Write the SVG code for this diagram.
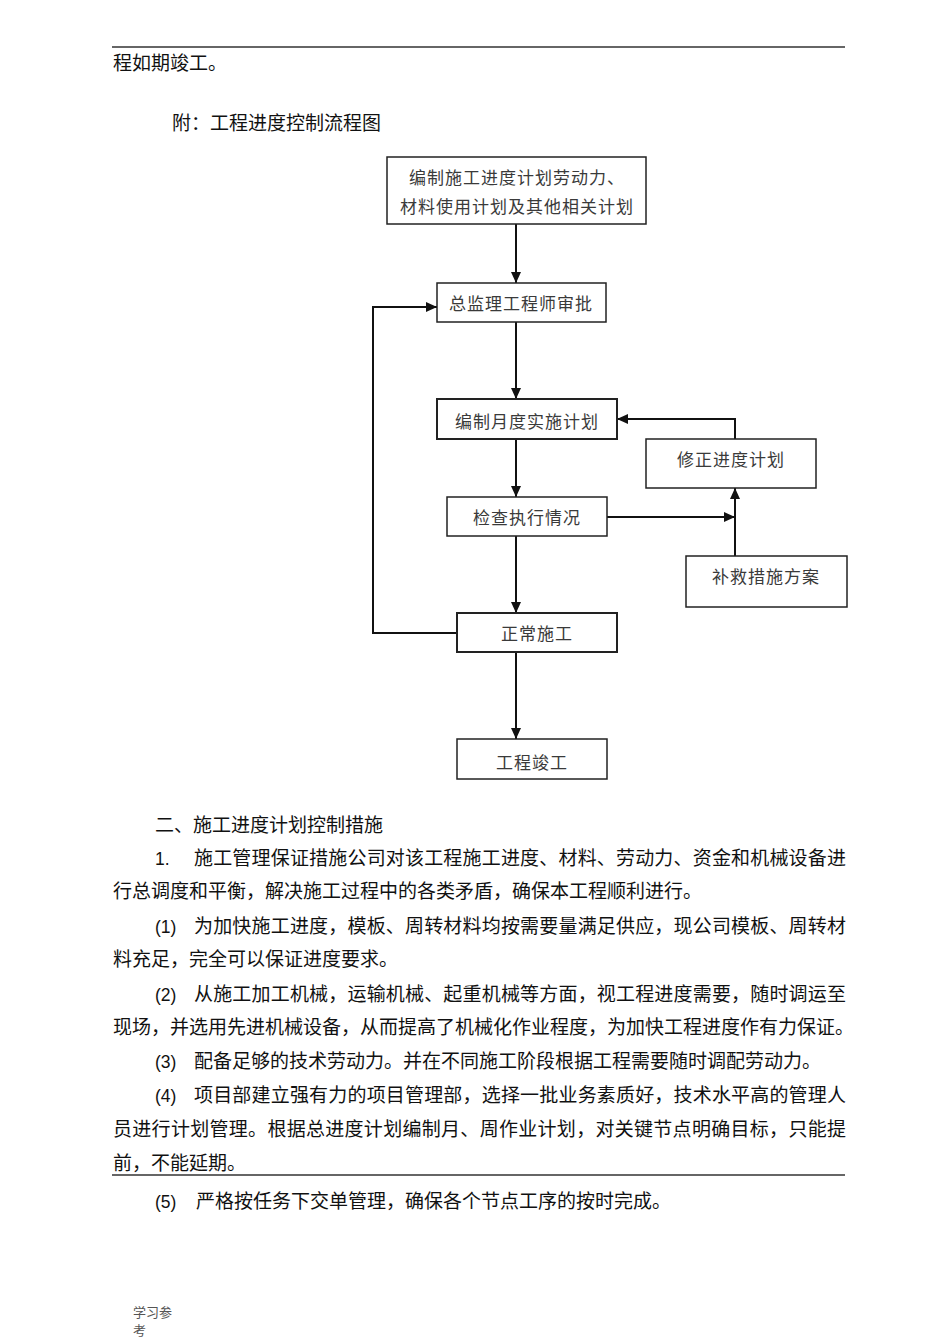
<svg xmlns="http://www.w3.org/2000/svg" width="950" height="1344" viewBox="0 0 950 1344">
<defs>
<style>
.body{font-family:"Noto Sans CJK SC","Liberation Sans",sans-serif;font-size:19px;fill:#111}
.num{font-family:"Liberation Sans","Noto Sans CJK SC",sans-serif;font-size:17.5px;fill:#111}
.box{fill:#fff;stroke:#222;stroke-width:1.5}
.lbl{font-family:"Noto Sans CJK SC",sans-serif;font-size:17px;letter-spacing:1px;fill:#3a3a3a;text-anchor:middle}
.con{fill:none;stroke:#111;stroke-width:2}
.rule{stroke:#333;stroke-width:1.3}
.foot{font-family:"Noto Sans CJK SC",sans-serif;font-size:13px;fill:#555}
</style>
<marker id="ah" markerUnits="userSpaceOnUse" markerWidth="12" markerHeight="10" refX="11" refY="5" orient="auto">
<path d="M0,0 L11,5 L0,10 z" fill="#111"/>
</marker>
</defs>
<rect width="950" height="1344" fill="#fff"/>

<line class="rule" x1="112" y1="47" x2="845" y2="47"/>
<text class="body" x="113" y="70">程如期竣工。</text>
<text class="body" x="172" y="130">附：工程进度控制流程图</text>

<g id="connectors">
<path class="con" d="M516,224 V283" marker-end="url(#ah)"/>
<path class="con" d="M516,322 V399" marker-end="url(#ah)"/>
<path class="con" d="M516,439 V497" marker-end="url(#ah)"/>
<path class="con" d="M516,536 V613" marker-end="url(#ah)"/>
<path class="con" d="M516,652 V739" marker-end="url(#ah)"/>
<path class="con" d="M457,633 H373 V307 H437" marker-end="url(#ah)"/>
<path class="con" d="M607,517 H735" marker-end="url(#ah)"/>
<path class="con" d="M735,556 V488" marker-end="url(#ah)"/>
<path class="con" d="M735,439 V419 H617" marker-end="url(#ah)"/>
</g>

<g id="n1">
<rect class="box" x="387" y="157" width="259" height="67"/>
<text class="lbl" x="517" y="184">编制施工进度计划劳动力、</text>
<text class="lbl" x="517" y="213">材料使用计划及其他相关计划</text>
</g>
<g id="n2">
<rect class="box" x="437" y="283" width="169" height="39"/>
<text class="lbl" x="521" y="310">总监理工程师审批</text>
</g>
<g id="n3">
<rect class="box" x="437" y="399" width="180" height="40" style="stroke-width:2"/>
<text class="lbl" x="527" y="428">编制月度实施计划</text>
</g>
<g id="n4">
<rect class="box" x="646" y="439" width="170" height="49"/>
<text class="lbl" x="731" y="466">修正进度计划</text>
</g>
<g id="n5">
<rect class="box" x="447" y="497" width="160" height="39"/>
<text class="lbl" x="527" y="524">检查执行情况</text>
</g>
<g id="n6">
<rect class="box" x="686" y="556" width="161" height="51"/>
<text class="lbl" x="766" y="583">补救措施方案</text>
</g>
<g id="n7">
<rect class="box" x="457" y="613" width="160" height="39" style="stroke-width:2"/>
<text class="lbl" x="537" y="640">正常施工</text>
</g>
<g id="n8">
<rect class="box" x="457" y="739" width="150" height="40"/>
<text class="lbl" x="532" y="769">工程竣工</text>
</g>

<text class="body" x="155" y="832">二、施工进度计划控制措施</text>
<text class="num" x="155" y="865">1.</text>
<text class="body" x="194" y="865" textLength="652" lengthAdjust="spacing">施工管理保证措施公司对该工程施工进度、材料、劳动力、资金和机械设备进</text>
<text class="body" x="113" y="898">行总调度和平衡，解决施工过程中的各类矛盾，确保本工程顺利进行。</text>
<text class="num" x="155" y="933">(1)</text>
<text class="body" x="194" y="933" textLength="652" lengthAdjust="spacing">为加快施工进度，模板、周转材料均按需要量满足供应，现公司模板、周转材</text>
<text class="body" x="113" y="966">料充足，完全可以保证进度要求。</text>
<text class="num" x="155" y="1001">(2)</text>
<text class="body" x="194" y="1001" textLength="652" lengthAdjust="spacing">从施工加工机械，运输机械、起重机械等方面，视工程进度需要，随时调运至</text>
<text class="body" x="113" y="1034">现场，并选用先进机械设备，从而提高了机械化作业程度，为加快工程进度作有力保证。</text>
<text class="num" x="155" y="1068">(3)</text>
<text class="body" x="194" y="1068">配备足够的技术劳动力。并在不同施工阶段根据工程需要随时调配劳动力。</text>
<text class="num" x="155" y="1102">(4)</text>
<text class="body" x="194" y="1102" textLength="652" lengthAdjust="spacing">项目部建立强有力的项目管理部，选择一批业务素质好，技术水平高的管理人</text>
<text class="body" x="113" y="1136" textLength="733" lengthAdjust="spacing">员进行计划管理。根据总进度计划编制月、周作业计划，对关键节点明确目标，只能提</text>
<text class="body" x="113" y="1170">前，不能延期。</text>
<line class="rule" x1="112" y1="1175" x2="845" y2="1175"/>
<text class="num" x="155" y="1208">(5)</text>
<text class="body" x="196" y="1208">严格按任务下交单管理，确保各个节点工序的按时完成。</text>

<text class="foot" x="133" y="1317">学习参</text>
<text class="foot" x="133" y="1335">考</text>
</svg>
